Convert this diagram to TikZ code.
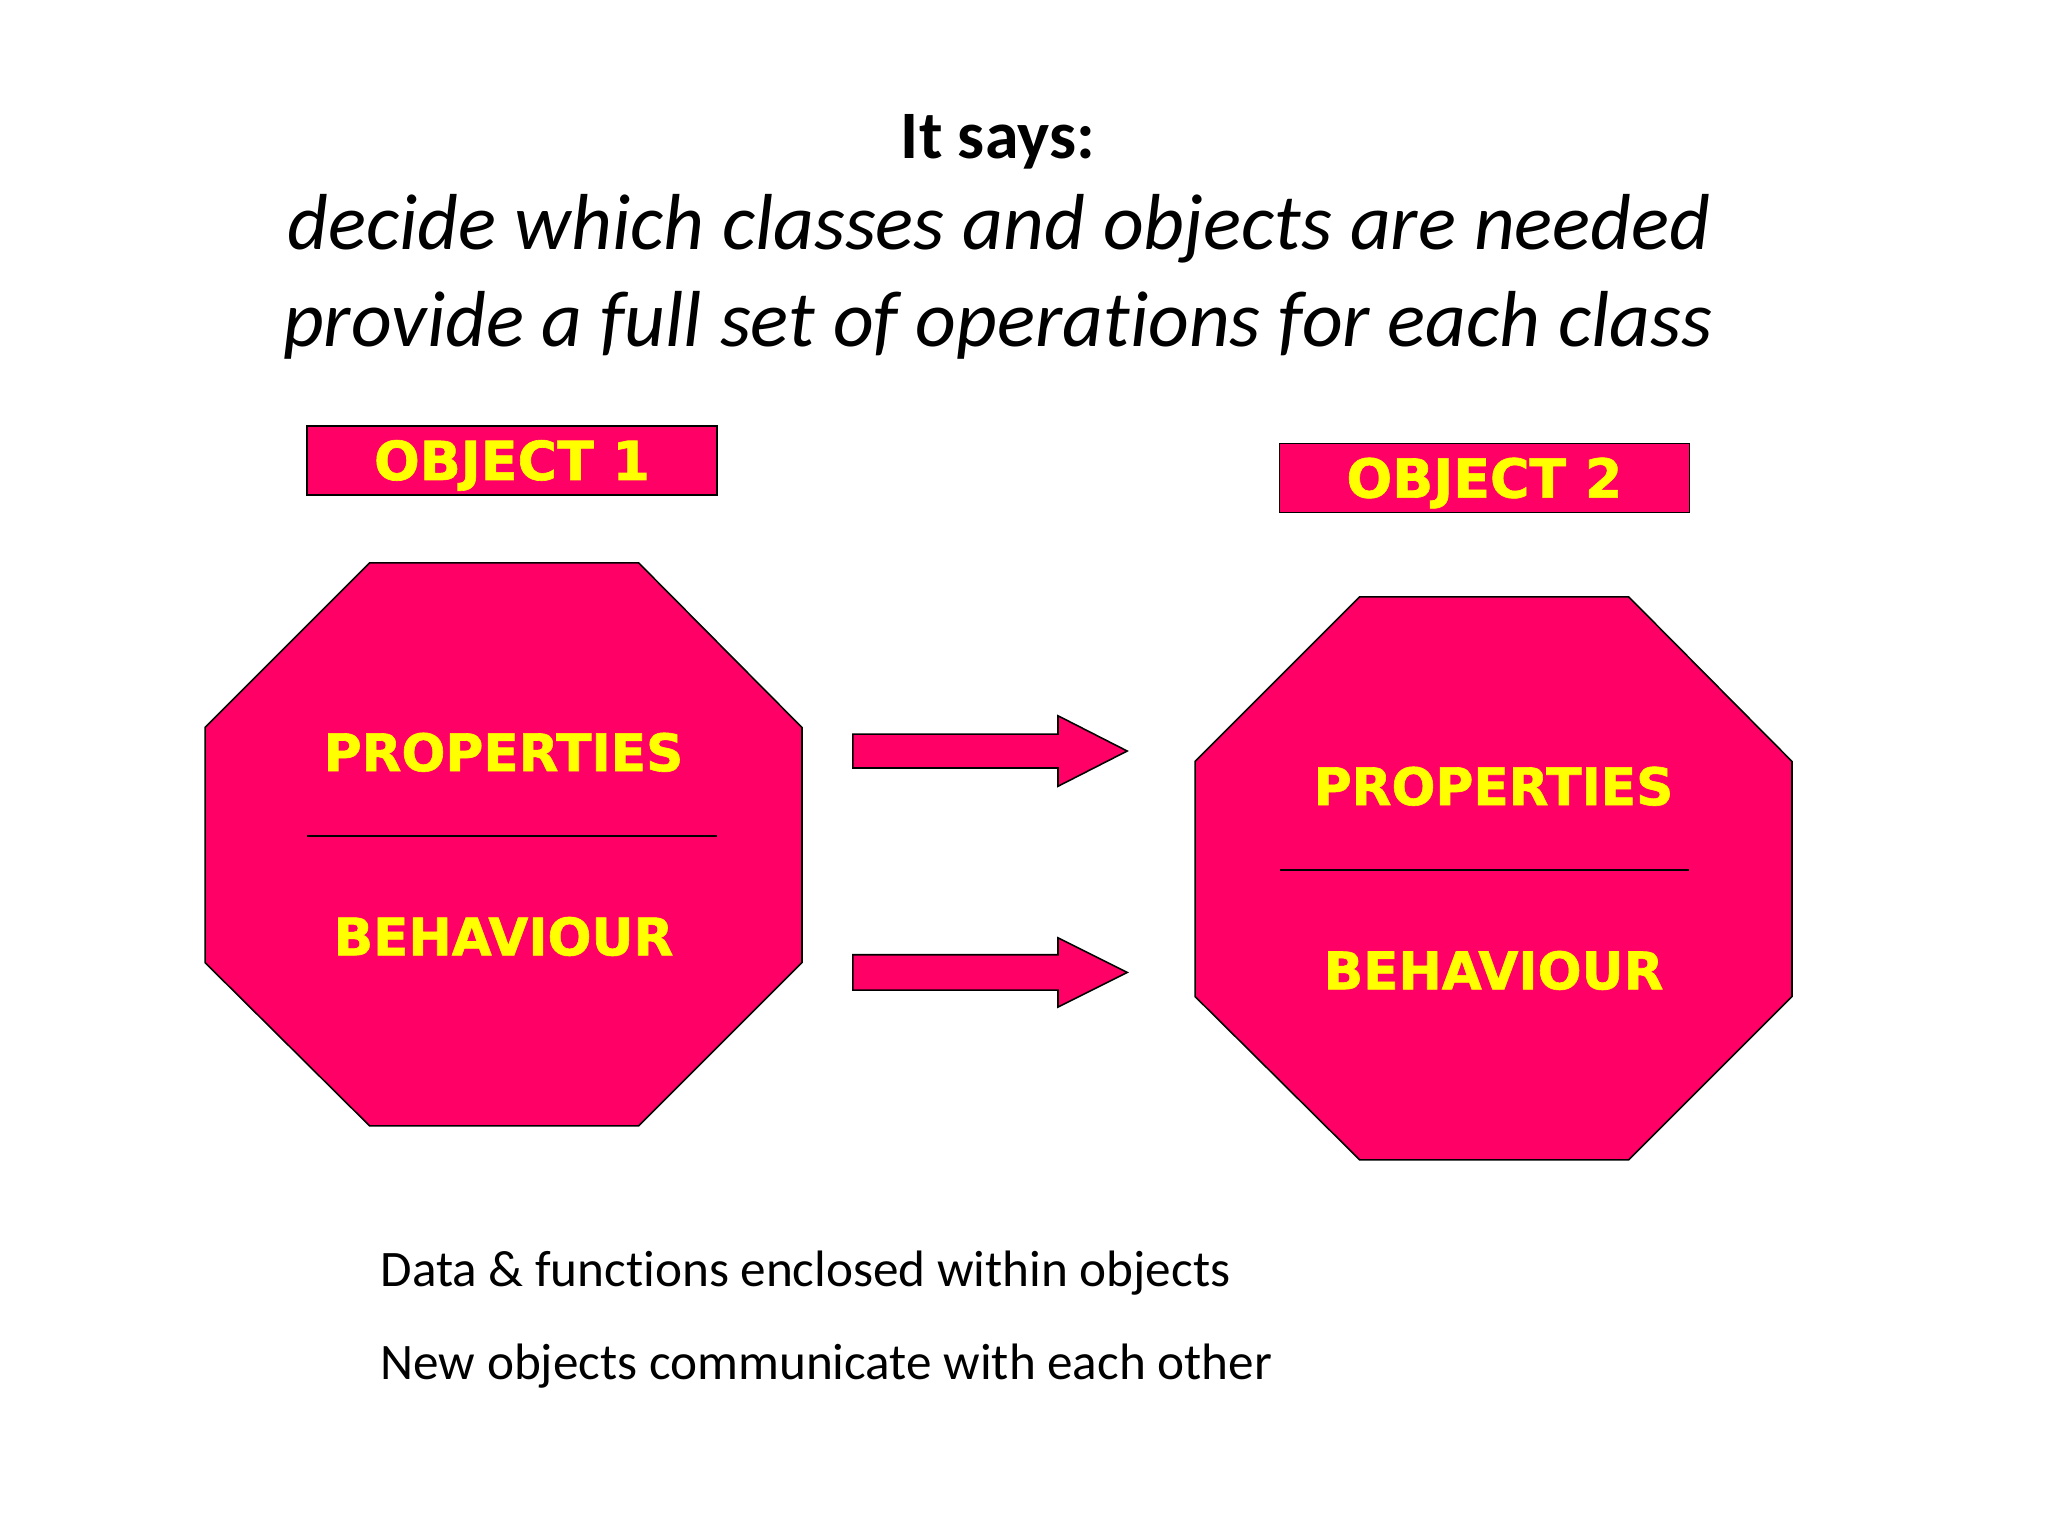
\documentclass[tikz,border=0pt]{standalone}
\usepackage{fontspec}
\setmainfont{Carlito}[Ligatures=NoCommon]
\newfontfamily\heavy{DejaVu Sans}[BoldFeatures={FakeBold=1.2}]
\definecolor{pinkfill}{HTML}{FF0066}
\definecolor{labelyellow}{HTML}{FFFF00}
\tikzset{
  pinkshape/.style={fill=pinkfill,draw=black,line width=0.6pt,line join=miter},
  objbox/.style={pinkshape,minimum width=157pt,minimum height=26.5pt,inner sep=0pt,
     text=labelyellow,font=\heavy\bfseries\fontsize{20.6}{24}\selectfont,text height=15pt,text depth=0pt},
  lbl/.style={text=labelyellow,inner sep=0pt,font=\heavy\bfseries\fontsize{19.8}{24}\selectfont,text height=14.4pt,text depth=0pt},
  divider/.style={draw=black,line width=0.6pt},
  titletxt/.style={inner sep=0pt,anchor=base,font=\bfseries\fontsize{26}{30}\selectfont},
  itxt/.style={inner sep=0pt,anchor=base,font=\itshape\fontsize{30.4}{36}\selectfont},
  bodytxt/.style={inner sep=0pt,anchor=base west,font=\fontsize{19.6}{24}\selectfont}
}
\begin{document}
\begin{tikzpicture}[x=0.5pt,y=-0.5pt]
\useasboundingbox (0,0) rectangle (1568,1176);
\fill[white] (0,0) rectangle (1568,1176);

% title
\node[titletxt] (title) at (764,121) {It says:};
\node[itxt] (line1) at (765,191) {decide which classes and objects are needed};
\node[itxt] (line2) at (764,265) {provide a full set of operations for each class};

% object boxes
\node[objbox] (obj1) at (392,352.5) {OBJECT 1};
\node[objbox] (obj2) at (1136.5,366) {OBJECT 2};

% octagon 1
\draw[pinkshape] (283,431) -- (489,431) -- (614,557) -- (614,737) -- (489,862)
   -- (283,862) -- (157,737) -- (157,557) -- cycle;
\coordinate (d1a) at (235,640);
\coordinate (d1b) at (549,640);
\draw[divider] (d1a) -- (d1b);
\node[lbl] (prop1) at (385.5,576) {PROPERTIES};
\node[lbl] (beh1) at (385.5,717) {BEHAVIOUR};

% octagon 2
\draw[pinkshape] (1041,457) -- (1247,457) -- (1372,583) -- (1372,763) -- (1247,888)
   -- (1041,888) -- (915,763) -- (915,583) -- cycle;
\coordinate (d2a) at (980,666);
\coordinate (d2b) at (1293,666);
\draw[divider] (d2a) -- (d2b);
\node[lbl] (prop2) at (1143.5,602) {PROPERTIES};
\node[lbl] (beh2) at (1143.5,743) {BEHAVIOUR};

% block arrows
\draw[pinkshape] (653,562) -- (810,562) -- (810,548) -- (863,575) -- (810,602)
   -- (810,588) -- (653,588) -- cycle;
\draw[pinkshape] (653,731) -- (810,731) -- (810,718) -- (863,744.5) -- (810,771)
   -- (810,758) -- (653,758) -- cycle;

% bottom text
\node[bodytxt] (b1) at (291,985) {Data \& functions enclosed within objects};
\node[bodytxt] (b2) at (291,1056) {New objects communicate with each other};
\end{tikzpicture}
\end{document}
